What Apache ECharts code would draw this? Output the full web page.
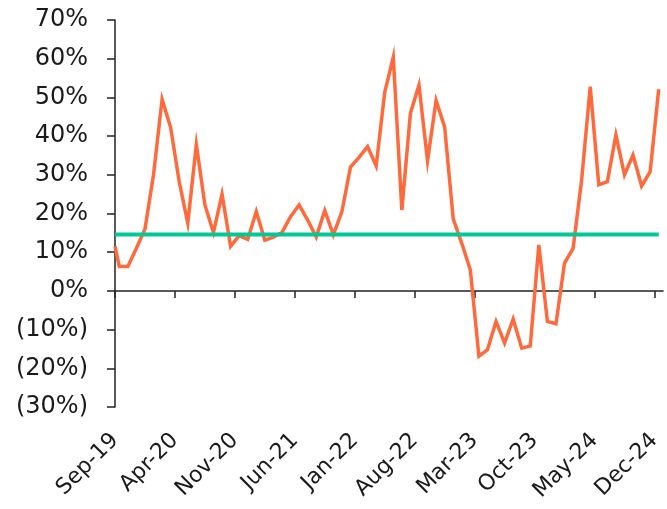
<!DOCTYPE html>
<html>
<head>
<meta charset="utf-8">
<script src="https://cdn.jsdelivr.net/npm/echarts@6/dist/echarts.min.js"></script>
<style>html,body{margin:0;padding:0;background:#fff;}#c{width:667px;height:509px;}</style>
</head>
<body>
<div id="c"></div>
<script>
// ---- data ----
const tickLabels = ['Sep-19','Apr-20','Nov-20','Jun-21','Jan-22','Aug-22','Mar-23','Oct-23','May-24','Dec-24'];
const startValue = 11.5; // value at the Sep-19 axis start
const monthlyValues = [6.3,6.3,11,16,30,49.5,42.2,28.2,17.5,37.8,22.2,15.1,25,11.5,14.3,13.3,20.5,13.1,13.9,15.1,19.2,22.2,18.3,13.9,20.8,14.5,20.5,32.0,34.5,37.3,32.3,51.3,60.4,20.9,45.9,53.2,33.6,49.2,42.3,18.6,12.3,5.4,-16.9,-15.2,-7.9,-13.5,-7.3,-14.8,-14.2,11.9,-7.9,-8.5,7.2,11.0,28.7,52.8,27.4,28.2,40.3,30.0,35.1,27.1,30.8,52.1];
const referenceLevel = 14.6;
const yMin = -30, yMax = 70, yStep = 10;
const monthsPerTick = 7;

// ---- build ----
const nMonths = monthlyValues.length;
const tickMonths = tickLabels.map((_, i) => i * monthsPerTick);
const lineData = [[0, startValue]].concat(monthlyValues.map((v, i) => [i + 0.5, v]));
const refData = [[0, referenceLevel], [nMonths - 0.5, referenceLevel]];

const FONT = 'DejaVu Sans';
const TXT = '#1a1a1a';
const AX = '#222222';

const chart = echarts.init(document.getElementById('c'), null, {renderer: 'canvas'});
chart.setOption({
  animation: false,
  backgroundColor: '#ffffff',
  grid: {left: 115, right: 4, top: 20, bottom: 102, containLabel: false},
  xAxis: [{
    type: 'value', min: 0, max: nMonths, position: 'bottom',
    axisLine: {show: true, onZero: true, lineStyle: {color: AX, width: 1.5}},
    axisTick: {show: true, customValues: tickMonths, length: 7, lineStyle: {color: AX, width: 1.5}},
    axisLabel: {show: false},
    splitLine: {show: false}
  }, {
    type: 'value', min: 0, max: nMonths, position: 'bottom',
    axisLine: {show: false, onZero: false},
    axisTick: {show: false},
    axisLabel: {
      show: true, customValues: tickMonths, rotate: 45, margin: 30,
      fontFamily: FONT, fontSize: 22, color: TXT,
      formatter: v => tickLabels[Math.round(v / monthsPerTick)]
    },
    splitLine: {show: false}
  }],
  yAxis: {
    type: 'value', min: yMin, max: yMax, interval: yStep,
    axisLine: {show: true, onZero: false, lineStyle: {color: AX, width: 1.5}},
    axisTick: {show: true, length: 8, lineStyle: {color: AX, width: 1.5}},
    axisLabel: {
      margin: 27, fontFamily: FONT, fontSize: 24, color: TXT,
      formatter: v => v < 0 ? '(' + Math.abs(v) + '%)' : v + '%'
    },
    splitLine: {show: false}
  },
  series: [{
    type: 'line', xAxisIndex: 0, data: lineData, showSymbol: false,
    lineStyle: {color: '#FF6A3D', width: 3.5, join: 'miter'},
    z: 2
  }, {
    type: 'line', xAxisIndex: 0, data: refData, showSymbol: false,
    lineStyle: {color: '#00C896', width: 4},
    z: 3
  }]
});
</script>
</body>
</html>
